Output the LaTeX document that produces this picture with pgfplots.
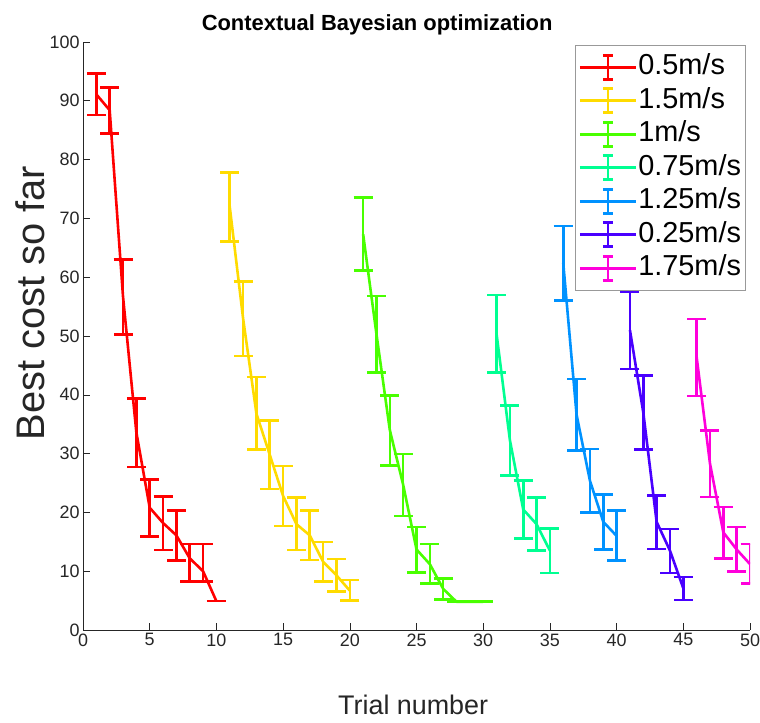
\documentclass[border=0pt]{standalone}
\usepackage{fontspec}
\setmainfont{Liberation Sans}
\usepackage{pgfplots}
\usepackage{pgfplotstable}
\pgfplotsset{compat=1.18}
\definecolor{c1}{rgb}{1,0,0}
\definecolor{c2}{rgb}{1,0.857,0}
\definecolor{c3}{rgb}{0.286,1,0}
\definecolor{c4}{rgb}{0,1,0.571}
\definecolor{c5}{rgb}{0,0.571,1}
\definecolor{c6}{rgb}{0.286,0,1}
\definecolor{c7}{rgb}{1,0,0.857}
\definecolor{axgray}{rgb}{0.15,0.15,0.15}
\pgfplotstableread{
x y lo hi
1 91.1 87.6 94.6
2 88.4 84.4 92.3
3 56.7 50.3 63.0
4 33.6 27.7 39.4
5 20.8 15.9 25.6
6 18.2 13.6 22.7
7 16.1 11.8 20.3
8 12.2 8.2 14.6
9 10.0 8.2 14.6
10 4.9 4.9 4.9
}\tA
\pgfplotstableread{
x y lo hi
11 72.0 66.1 77.8
12 53.0 46.6 59.3
13 36.8 30.7 43.0
14 29.8 24.0 35.6
15 22.8 17.7 27.9
16 18.0 13.6 22.5
17 16.1 11.9 20.3
18 11.6 8.2 15.0
19 9.3 6.5 12.1
20 6.7 5.0 8.5
}\tB
\pgfplotstableread{
x y lo hi
21 67.3 61.1 73.6
22 50.3 43.8 56.8
23 34.0 28.0 39.9
24 24.7 19.4 29.9
25 13.7 9.8 17.5
26 11.2 7.9 14.6
27 7.0 5.2 8.8
28 4.8 4.8 4.8
29 4.8 4.8 4.8
30 4.8 4.8 4.8
}\tC
\pgfplotstableread{
x y lo hi
31 50.4 43.8 57.0
32 32.3 26.3 38.2
33 20.5 15.6 25.4
34 18.0 13.5 22.5
35 13.5 9.7 17.3
}\tD
\pgfplotstableread{
x y lo hi
36 62.4 56.0 68.7
37 36.6 30.5 42.7
38 25.4 20.0 30.8
39 18.4 13.7 23.0
40 16.0 11.8 20.3
}\tE
\pgfplotstableread{
x y lo hi
41 51.0 44.4 57.5
42 37.0 30.7 43.3
43 18.4 13.8 22.9
44 13.5 9.7 17.2
45 7.1 5.1 9.0
}\tF
\pgfplotstableread{
x y lo hi
46 46.4 39.8 52.9
47 28.3 22.6 33.9
48 16.6 12.2 20.9
49 13.7 9.9 17.5
50 11.2 7.9 14.6
}\tG
\pgfplotsset{
  ebar/.style={line width=2.6bp, line join=round,
    error bars/.cd, y dir=both, y explicit,
    error bar style={line width=2.6bp},
    error mark options={rotate=90, line width=2.6bp, mark size=9.5bp}},
}
\begin{document}
\begin{tikzpicture}
\begin{axis}[
  scale only axis,
  width=667bp, height=588bp,
  xmin=0, xmax=50, ymin=0, ymax=100,
  xtick={0,5,...,50}, ytick={0,10,...,100},
  axis x line*=bottom, axis y line*=left,
  axis line style={axgray, line width=0.6bp, -},
  tick style={axgray, line width=0.6bp},
  tick align=inside, major tick length=6.7bp,
  tick label style={font=\fontsize{18}{20}\selectfont, text=axgray},
  /pgf/number format/assume math mode=true,
  xlabel={Trial number}, ylabel={Best cost so far},
  xlabel style={font=\fontsize{27}{28}\selectfont, text=axgray,
    at={(rel axis cs:0.495,0)}, anchor=base, yshift=-84bp},
  ylabel style={font=\fontsize{40}{42}\selectfont, text=axgray,
    at={(rel axis cs:0,0.556)}, anchor=base, yshift=38bp},
  title={Contextual Bayesian optimization},
  title style={font=\fontsize{22}{24}\selectfont\bfseries,
    at={(rel axis cs:0.441,1)}, anchor=base, yshift=6bp},
  legend cell align=left,
  legend style={at={(rel axis cs:0.993,0.995)}, anchor=north east,
    draw=gray!80, line width=0.6bp, fill=white,
    font=\fontsize{29}{30}\selectfont, inner xsep=3bp, inner ysep=8.5bp,
    nodes={inner sep=1bp, text height=20bp, text depth=5bp},
    row sep=6.5bp},
  legend image code/.code={
    \draw[line width=2.6bp] (0bp,0bp) -- (56bp,0bp);
    \draw[line width=2.6bp] (28bp,-12bp) -- (28bp,12bp);
    \draw[line width=2.6bp] (23bp,-12bp) -- (33bp,-12bp);
    \draw[line width=2.6bp] (23bp,12bp) -- (33bp,12bp);
  },
]
\addplot[c1, ebar] table[x=x, y=y, y error plus expr=\thisrow{hi}-\thisrow{y}, y error minus expr=\thisrow{y}-\thisrow{lo}] {\tA};
\addlegendentry{0.5m/s}
\addplot[c2, ebar] table[x=x, y=y, y error plus expr=\thisrow{hi}-\thisrow{y}, y error minus expr=\thisrow{y}-\thisrow{lo}] {\tB};
\addlegendentry{1.5m/s}
\addplot[c3, ebar] table[x=x, y=y, y error plus expr=\thisrow{hi}-\thisrow{y}, y error minus expr=\thisrow{y}-\thisrow{lo}] {\tC};
\addlegendentry{1m/s}
\addplot[c4, ebar] table[x=x, y=y, y error plus expr=\thisrow{hi}-\thisrow{y}, y error minus expr=\thisrow{y}-\thisrow{lo}] {\tD};
\addlegendentry{0.75m/s}
\addplot[c5, ebar] table[x=x, y=y, y error plus expr=\thisrow{hi}-\thisrow{y}, y error minus expr=\thisrow{y}-\thisrow{lo}] {\tE};
\addlegendentry{1.25m/s}
\addplot[c6, ebar] table[x=x, y=y, y error plus expr=\thisrow{hi}-\thisrow{y}, y error minus expr=\thisrow{y}-\thisrow{lo}] {\tF};
\addlegendentry{0.25m/s}
\addplot[c7, ebar] table[x=x, y=y, y error plus expr=\thisrow{hi}-\thisrow{y}, y error minus expr=\thisrow{y}-\thisrow{lo}] {\tG};
\addlegendentry{1.75m/s}
\coordinate (bl) at (rel axis cs:0,0);
\coordinate (tr) at (rel axis cs:1,1);
\end{axis}
\pgfresetboundingbox
\path ([shift={(-83bp,-92bp)}]bl) rectangle ([shift={(10bp,42bp)}]tr);
\end{tikzpicture}
\end{document}
